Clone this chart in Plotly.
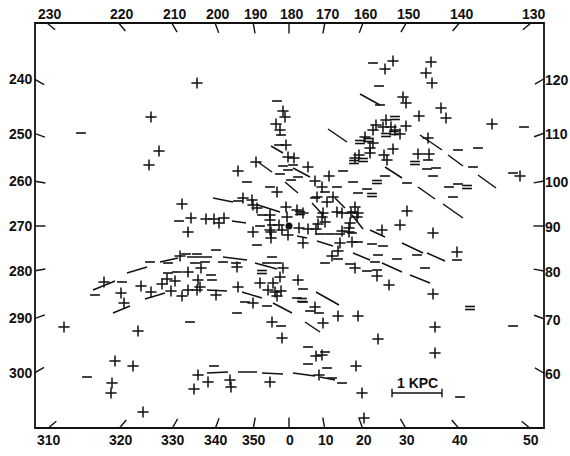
import math
import plotly.graph_objects as go

# Positions in kpc relative to the Sun (x toward l=90, y toward l=180)
plus_stars = [
    (-1.84, 2.86), (-2.76, 2.18), (-2.60, 1.50), (-2.80, 1.22), (-1.02, 1.10), (-0.66, 1.28),
    (-2.14, 0.44), (-0.92, 0.56), (-0.74, 0.52), (-0.72, 0.42), (-0.64, 0.36), (-1.96, 0.16),
    (-2.02, -0.12), (-1.66, 0.14), (-1.50, 0.14), (-1.40, 0.06), (-1.30, 0.16), (-0.72, -0.12),
    (-0.36, -0.12), (-0.36, -0.24), (-0.02, -0.18), (-0.38, 0.22), (-0.38, 0.12), (-0.38, -0.08),
    (-0.20, 0.02), (-0.14, -0.08), (-0.04, 0.18), (0.20, -0.04), (0.38, -0.06), (0.54, -0.06),
    (-0.06, 0.38), (0.16, 0.32), (0.28, 0.26),
    (-0.12, 2.30), (-0.08, 2.18), (-0.26, 2.04), (-0.18, 1.92), (-0.06, 1.62), (-0.02, 1.38),
    (0.10, 1.36), (0.38, 1.18), (-0.24, 0.68), (0.52, 0.90), (0.66, 0.78), (0.80, 1.00),
    (0.56, 0.58), (0.88, 0.58), (0.76, 0.48), (0.68, 0.26), (0.66, 0.18), (0.72, 0.08),
    (0.58, 0.04), (0.96, 0.28), (1.06, 0.26), (1.24, 0.26), (1.32, 0.38), (1.38, 0.26),
    (1.22, 0.06), (1.20, -0.04), (1.20, -0.12), (1.06, -0.10), (1.36, 0.18),
    (2.08, 3.30), (1.92, 3.14), (2.84, 3.28), (2.74, 3.06), (2.86, 2.86), (2.28, 2.58),
    (2.34, 2.46), (3.04, 2.36), (3.14, 2.16), (2.60, 2.20), (4.06, 2.04), (2.78, 1.76),
    (2.58, 1.44), (2.80, 1.44), (4.62, 1.00), (2.36, 0.30), (2.22, 0.02), (1.86, -0.08),
    (1.94, 2.12), (1.74, 2.02), (1.88, 1.98), (2.04, 1.98), (2.12, 1.92), (2.22, 1.84),
    (2.34, 2.00), (1.68, 1.92), (1.52, 1.78), (1.68, 1.66), (1.62, 1.56), (1.62, 1.46),
    (1.32, 1.36), (1.40, 1.42), (1.90, 1.42), (1.96, 1.32), (2.08, 1.54),
    (2.88, -0.14), (3.36, -0.52), (0.28, -0.34), (1.02, -0.34), (1.26, -0.32), (0.98, -0.50),
    (0.86, -0.60), (1.32, -0.84), (1.76, -1.00), (2.00, -1.18), (2.88, -1.36), (0.18, -1.08),
    (0.52, -1.62), (0.98, -1.80), (1.38, -1.80), (0.68, -1.94), (2.92, -2.02), (1.78, -2.26),
    (2.92, -2.54), (0.54, -2.60), (0.66, -2.58), (1.34, -2.80), (0.60, -2.98), (1.46, -3.34),
    (1.50, -3.84),
    (-2.18, -0.60), (-1.04, -0.82), (-1.76, -0.84), (-2.02, -0.92), (-0.12, -0.84), (-0.18, -1.02),
    (-0.32, -1.14), (-0.42, -1.28), (-0.28, -1.32), (-0.16, -1.30), (-0.24, -1.40), (-0.58, -1.14),
    (-3.70, -1.12), (-3.36, -1.34), (-3.30, -1.54), (-2.96, -1.20), (-2.76, -1.32), (-2.54, -1.16),
    (-2.44, -1.06), (-2.28, -1.10), (-2.36, -1.30), (-2.14, -1.40), (-2.02, -1.28), (-1.84, -1.28),
    (-1.78, -1.22), (-1.82, -1.08), (-1.46, -1.38), (-1.02, -1.22), (-0.72, -1.54),
    (-4.50, -2.02), (-3.02, -2.10), (-0.34, -1.92), (-0.14, -2.24), (-3.48, -2.70), (-3.12, -2.80),
    (-3.54, -3.14), (-3.56, -3.34), (-2.92, -3.72), (-1.82, -2.98), (-1.62, -3.12), (-1.90, -3.26),
    (-1.18, -3.08), (-1.16, -3.22), (-0.38, -3.12),
]

minus_stars = [
    (-4.16, 1.86), (-0.24, 2.50), (-0.16, 1.82), (-0.20, 1.62), (-0.84, 0.88), (-0.12, 1.20),
    (0.08, 1.22), (-0.02, 1.12), (-0.18, 1.04), (0.18, 0.98), (0.04, 0.92), (-0.38, 0.78),
    (0.72, 0.68), (1.08, 1.10), (0.96, 0.78), (1.28, 0.88), (1.56, 0.74),
    (1.68, 3.26), (1.80, 2.80), (1.82, 2.42), (4.70, 1.98), (3.38, 1.52), (3.78, 1.56),
    (3.68, 1.18), (4.48, 1.06), (3.20, 0.78), (3.38, 0.84), (3.28, 0.58), (2.36, 0.86),
    (2.78, 1.32), (2.76, 1.14), (2.94, 1.16), (2.88, 1.00), (1.92, 1.00), (0.52, 0.56),
    (1.38, 0.66), (-2.20, 0.10), (-1.02, 0.50), (-0.54, 0.22), (-0.34, 0.02), (-0.58, 0.00),
    (1.26, 0.28), (0.62, -0.16), (0.82, -0.16), (1.02, -0.16), (1.26, -0.14), (1.38, -0.32),
    (1.66, -0.36), (1.88, -0.40), (0.98, -0.66), (0.72, -0.74), (1.78, -0.58), (1.72, -0.72),
    (2.16, -0.66), (2.72, -0.84), (2.56, -0.58), (1.22, -0.76), (1.56, -0.90), (1.76, -0.88),
    (3.36, -0.68), (0.16, -1.44), (0.28, -1.26), (0.42, -1.70), (0.28, -1.52), (0.60, -1.74),
    (4.48, -2.00), (0.38, -2.42), (0.72, -2.52), (0.38, -2.76), (0.76, -2.84), (0.86, -3.04),
    (1.06, -3.14), (3.42, -3.42),
    (-1.46, -0.48), (-0.64, -0.38), (-3.34, -1.12), (-2.78, -0.72), (-2.42, -0.74), (-2.42, -0.94),
    (-2.24, -0.92), (-2.06, -0.56), (-1.84, -0.56), (-1.32, -0.72), (-1.06, -0.74), (-1.88, -0.74),
    (-1.68, -0.72), (-1.56, -0.98), (-1.54, -1.08), (-0.34, -0.62), (-0.44, -0.74), (-0.24, -0.74),
    (-3.88, -1.38), (-0.88, -1.52), (-0.44, -1.60), (-1.04, -1.74), (-1.98, -1.92), (-0.16, -2.00),
    (-4.04, -3.02), (-1.50, -2.80),
    # close pairs drawn as "="
    (-0.54, -0.89), (-0.54, -0.95), (0.22, 0.29), (0.22, 0.23), (0.26, -1.45), (0.26, -1.51),
    (3.62, -1.61), (3.62, -1.67), (2.12, 2.19), (2.12, 2.13), (1.94, 1.85), (1.94, 1.79),
    (2.10, 1.89), (2.10, 1.83), (1.42, 1.71), (1.42, 1.65), (1.58, 1.75), (1.58, 1.69),
    (1.30, 1.31), (1.30, 1.25), (1.48, 1.35), (1.48, 1.29), (2.52, 1.29), (2.52, 1.23),
    (1.76, 0.91), (1.76, 0.85), (1.66, 0.65), (1.66, 0.59), (3.56, 0.81), (3.56, 0.75),
]

# dashes: (x0, y0, x1, y1) in kpc
dashes = [
    (-0.36, 1.60, -0.12, 1.46), (-0.62, 1.28, -0.34, 1.08), (0.08, 1.16, 0.42, 0.98),
    (-0.08, 0.88, 0.18, 0.66), (-1.52, 0.56, -1.12, 0.48), (-0.62, 0.42, -0.18, 0.28),
    (-1.14, 0.10, -0.86, 0.06), (0.16, -0.20, 0.36, -0.24), (0.46, 0.46, 0.68, 0.22),
    (0.92, 0.56, 1.12, 0.36), (1.26, 0.22, 1.48, -0.06), (0.78, 1.94, 1.16, 1.68),
    (1.42, 2.64, 1.82, 2.42), (1.92, 1.18, 2.26, 0.96), (2.62, 1.82, 3.06, 1.52),
    (3.18, 1.42, 3.48, 1.20), (3.78, 1.02, 4.14, 0.76), (2.58, 0.78, 2.92, 0.54),
    (3.08, 0.44, 3.48, 0.16), (1.62, -0.08, 1.92, -0.22), (2.26, -0.34, 2.68, -0.54),
    (2.76, -0.54, 3.12, -0.70), (0.56, -0.30, 0.88, -0.40), (1.28, -0.54, 1.62, -0.68),
    (1.86, -0.74, 2.26, -0.92), (2.42, -0.98, 2.82, -1.14), (0.54, -1.32, 1.00, -1.58),
    (0.32, -1.92, 0.62, -2.12), (0.08, -2.94, 0.52, -3.00), (0.62, -3.02, 0.92, -3.08),
    (-3.92, -1.28, -3.48, -1.10), (-3.24, -0.94, -2.84, -0.82), (-2.58, -0.72, -2.22, -0.64),
    (-2.04, -0.62, -1.54, -0.62), (-1.32, -0.62, -0.84, -0.68), (-0.68, -0.74, -0.24, -0.86),
    (-3.52, -1.74, -3.18, -1.60), (-2.88, -1.46, -2.48, -1.34), (-1.64, -1.28, -1.24, -1.30),
    (-0.94, -1.32, -0.54, -1.44), (-0.32, -1.54, 0.06, -1.74), (-1.64, -2.94, -1.22, -2.92),
    (-1.02, -2.92, -0.64, -2.92), (-0.54, -2.94, -0.12, -2.96),
]

sun = (0.0, 0.0)
top_longitudes = [230, 220, 210, 200, 190, 180, 170, 160, 150, 140, 130]
left_longitudes = [240, 250, 260, 270, 280, 290, 300]
right_longitudes = [120, 110, 100, 90, 80, 70, 60]
bottom_longitudes = [310, 320, 330, 340, 350, 0, 10, 20, 30, 40, 50]
scale_bar = (2.06, 3.06, -3.34)  # x0, x1, y  (1 kpc)

XR = (-5.08, 5.10)
YR = (-4.04, 4.06)
BLACK = "#111111"
FONT = "Liberation Sans"

fig = go.Figure()

# dashes
dx, dy = [], []
for x0, y0, x1, y1 in dashes:
    dx += [x0, x1, None]
    dy += [y0, y1, None]
fig.add_trace(go.Scatter(x=dx, y=dy, mode="lines", line=dict(color=BLACK, width=1.5),
                         hoverinfo="skip", showlegend=False))

fig.add_trace(go.Scatter(x=[p[0] for p in plus_stars], y=[p[1] for p in plus_stars], mode="markers",
                         marker=dict(symbol="cross-thin", size=8, line=dict(color=BLACK, width=1.5)),
                         showlegend=False))
fig.add_trace(go.Scatter(x=[p[0] for p in minus_stars], y=[p[1] for p in minus_stars], mode="markers",
                         marker=dict(symbol="line-ew", size=7, line=dict(color=BLACK, width=1.6)),
                         showlegend=False))
fig.add_trace(go.Scatter(x=[sun[0]], y=[sun[1]], mode="markers",
                         marker=dict(symbol="circle", size=7, color=BLACK), showlegend=False))

# longitude ticks on the frame
def edge_point(l):
    a = math.radians(l)
    ux, uy = math.sin(a), -math.cos(a)
    ts = []
    if ux > 1e-9: ts.append(XR[1] / ux)
    if ux < -1e-9: ts.append(XR[0] / ux)
    if uy > 1e-9: ts.append(YR[1] / uy)
    if uy < -1e-9: ts.append(YR[0] / uy)
    t = min(ts)
    return t, ux, uy

tx, ty = [], []
annotations = []
for side, longs in (("top", top_longitudes), ("left", left_longitudes),
                    ("right", right_longitudes), ("bottom", bottom_longitudes)):
    for l in longs:
        t, ux, uy = edge_point(l)
        px, py = t * ux, t * uy
        tx += [px, (t - 0.21) * ux, None]
        ty += [py, (t - 0.21) * uy, None]
        ann = dict(x=px, y=py, text=str(l), showarrow=False, borderpad=0,
                   font=dict(family=FONT, size=14, color=BLACK, weight="bold"))
        if side == "top":
            ann.update(yanchor="bottom", yshift=0, xshift=3)
        elif side == "bottom":
            ann.update(yanchor="top", yshift=-3, xshift=1)
        elif side == "left":
            ann.update(xanchor="right", xshift=-1)
        else:
            ann.update(xanchor="left", xshift=0, yshift=-1)
        annotations.append(ann)
fig.add_trace(go.Scatter(x=tx, y=ty, mode="lines", line=dict(color=BLACK, width=1.4),
                         hoverinfo="skip", showlegend=False))

# scale bar
x0, x1, yb = scale_bar
fig.add_trace(go.Scatter(x=[x0, x1], y=[yb, yb], mode="lines", line=dict(color=BLACK, width=1.6),
                         hoverinfo="skip", showlegend=False))
fig.add_trace(go.Scatter(x=[x0, x1], y=[yb, yb], mode="markers",
                         marker=dict(symbol="line-ns", size=6, line=dict(color=BLACK, width=1.4)),
                         hoverinfo="skip", showlegend=False))
annotations.append(dict(x=(x0 + x1) / 2, y=yb, text="1 KPC", showarrow=False, yshift=10,
                        font=dict(family=FONT, size=14, color=BLACK, weight="bold")))

fig.update_layout(
    width=570, height=456,
    margin=dict(l=35, r=26, t=23, b=28),
    paper_bgcolor="white", plot_bgcolor="white",
    xaxis=dict(range=list(XR), visible=False, fixedrange=True),
    yaxis=dict(range=list(YR), visible=False, fixedrange=True),
    annotations=annotations,
    shapes=[dict(type="rect", xref="paper", yref="paper", x0=0, y0=0, x1=1, y1=1,
                 line=dict(color=BLACK, width=1.8))],
    showlegend=False,
    hovermode=False,
)

# remove the browser's default 8px body margin so the 570x456 figure fills the window
fig.write_html("out.html",
               config={"displayModeBar": False, "staticPlot": True},
               post_script="document.body.style.margin='0';document.body.style.overflow='hidden';")
